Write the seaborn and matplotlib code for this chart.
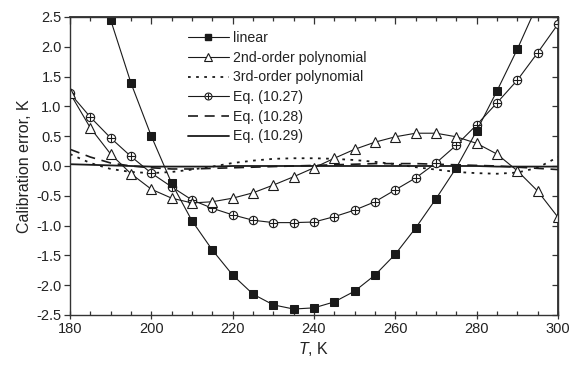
import numpy as np
import pandas as pd
import matplotlib
matplotlib.use("Agg")
import matplotlib.pyplot as plt
from matplotlib.lines import Line2D
from matplotlib.legend_handler import HandlerTuple
from matplotlib.ticker import MultipleLocator
import seaborn as sns

# Temperature grid, K
T = [180, 185, 190, 195, 200, 205, 210, 215, 220, 225, 230, 235, 240,
     245, 250, 255, 260, 265, 270, 275, 280, 285, 290, 295, 300]

# Calibration error of each fitting approach, K
err_linear = [4.8, 3.6, 2.45, 1.39, 0.50, -0.29, -0.92, -1.41, -1.83, -2.15,
              -2.33, -2.40, -2.38, -2.28, -2.10, -1.83, -1.48, -1.04, -0.55,
              -0.03, 0.59, 1.26, 1.96, 2.72, 3.55]
err_poly2 = [1.22, 0.64, 0.20, -0.13, -0.39, -0.54, -0.62, -0.60, -0.54, -0.45,
             -0.32, -0.18, -0.03, 0.13, 0.28, 0.40, 0.49, 0.55, 0.55, 0.49,
             0.38, 0.20, -0.08, -0.42, -0.86]
err_poly3 = [0.20, 0.05, -0.05, -0.10, -0.12, -0.10, -0.06, -0.01, 0.05, 0.09,
             0.12, 0.13, 0.13, 0.12, 0.10, 0.07, 0.03, -0.02, -0.06, -0.10,
             -0.12, -0.13, -0.11, -0.03, 0.15]
err_eq1027 = [1.22, 0.82, 0.47, 0.16, -0.12, -0.35, -0.57, -0.71, -0.82, -0.91,
              -0.95, -0.95, -0.94, -0.85, -0.74, -0.60, -0.40, -0.20, 0.05,
              0.35, 0.69, 1.06, 1.44, 1.90, 2.38]
err_eq1028 = [0.28, 0.15, 0.05, 0.00, -0.03, -0.05, -0.05, -0.04, -0.03, -0.02,
              -0.01, 0.00, 0.01, 0.02, 0.03, 0.04, 0.04, 0.04, 0.03, 0.02,
              0.01, 0.00, -0.02, -0.04, -0.06]
err_eq1029 = [0.03, 0.02, 0.01, 0.00, -0.01, -0.01, -0.01, -0.01, 0.00, 0.00,
              0.00, 0.00, 0.00, 0.00, 0.00, 0.00, 0.00, 0.00, 0.00, 0.00,
              0.00, -0.01, -0.01, -0.01, -0.01]

labels = ["linear", "2nd-order polynomial", "3rd-order polynomial",
          "Eq. (10.27)", "Eq. (10.28)", "Eq. (10.29)"]

sns.set_theme(style="ticks")
plt.rcParams["font.family"] = ["Liberation Sans", "DejaVu Sans"]
plt.rcParams["mathtext.fontset"] = "custom"
plt.rcParams["mathtext.it"] = "Liberation Sans:italic"

fig = plt.figure(figsize=(5.72, 3.67), dpi=100)
ax = fig.add_axes([0.1224, 0.1417, 0.8531, 0.812])

ink = "#1a1a1a"
lw = 0.8
dotted = (0, (1.5, 3.0))
dashed = (0, (6, 4))

# 3rd-order polynomial, Eq. (10.28), Eq. (10.29): plain lines
sns.lineplot(x=T, y=err_poly3, ax=ax, color=ink, lw=1.3,
             linestyle=dotted, estimator=None, sort=False)
sns.lineplot(x=T, y=err_eq1028, ax=ax, color=ink, lw=1.2,
             linestyle=dashed, estimator=None, sort=False)
sns.lineplot(x=T, y=err_eq1029, ax=ax, color=ink, lw=1.3,
             estimator=None, sort=False)

# Eq. (10.27): open circle with a cross
sns.lineplot(x=T, y=err_eq1027, ax=ax, color=ink, lw=lw, marker="o",
             markersize=6, markerfacecolor="white", markeredgecolor=ink,
             markeredgewidth=0.8, estimator=None, sort=False)
ax.plot(T, err_eq1027, linestyle="none", marker="+", markersize=6,
        color=ink, markeredgewidth=0.8)

# 2nd-order polynomial: open triangles
sns.lineplot(x=T, y=err_poly2, ax=ax, color=ink, lw=lw, marker="^",
             markersize=7.5, markerfacecolor="white", markeredgecolor=ink,
             markeredgewidth=0.8, estimator=None, sort=False)

# linear: filled squares
sns.lineplot(x=T, y=err_linear, ax=ax, color=ink, lw=lw, marker="s",
             markersize=6, markerfacecolor=ink, markeredgecolor=ink,
             estimator=None, sort=False)

ax.set_xlim(180, 300)
ax.set_ylim(-2.5, 2.5)
ax.xaxis.set_major_locator(MultipleLocator(20))
ax.xaxis.set_minor_locator(MultipleLocator(5))
yt = np.arange(-2.5, 2.51, 0.5)
ax.set_yticks(yt)
ax.set_yticklabels([f"{v:.1f}" for v in yt])

for s in ax.spines.values():
    s.set_color("#333333")
    s.set_linewidth(1.0)

ax.tick_params(axis="x", which="major", direction="inout", length=6,
               width=0.9, labelsize=10.5, pad=2, colors="#333333",
               labelcolor="#222222")
ax.tick_params(axis="x", which="minor", direction="in", length=3,
               width=0.9, colors="#333333")
ax.tick_params(axis="y", which="major", direction="out", length=4,
               width=0.9, labelsize=10.5, pad=2, colors="#333333",
               labelcolor="#222222")

top = ax.secondary_xaxis("top")
top.xaxis.set_major_locator(MultipleLocator(20))
top.xaxis.set_minor_locator(MultipleLocator(5))
top.tick_params(which="major", direction="in", length=5, width=0.9,
                labeltop=False, colors="#333333")
top.tick_params(which="minor", direction="in", length=3, width=0.9,
                colors="#333333")
right = ax.secondary_yaxis("right")
right.set_yticks(yt)
right.tick_params(which="major", direction="in", length=4, width=0.9,
                  labelright=False, colors="#333333")

ax.set_xlabel(r"$\it{T}$, K", fontsize=11.5, color="#222222", labelpad=3)
ax.set_ylabel("Calibration error, K", fontsize=11.5, color="#222222",
              labelpad=3)

# legend entries
h_lin = Line2D([], [], color=ink, lw=lw, marker="s", markersize=5,
               markerfacecolor=ink)
h_p2 = Line2D([], [], color=ink, lw=lw, marker="^", markersize=6,
              markerfacecolor="white", markeredgewidth=0.8)
h_p3 = Line2D([], [], color=ink, lw=1.3, linestyle=dotted)
h_27a = Line2D([], [], color=ink, lw=lw, marker="o", markersize=5,
               markerfacecolor="white", markeredgewidth=0.8)
h_27b = Line2D([], [], color=ink, linestyle="none", marker="+",
               markersize=5, markeredgewidth=0.8)
h_28 = Line2D([], [], color=ink, lw=1.2, linestyle=dashed)
h_29 = Line2D([], [], color=ink, lw=1.3)

leg = ax.legend([h_lin, h_p2, h_p3, (h_27a, h_27b), h_28, h_29], labels,
                handler_map={tuple: HandlerTuple(ndivide=1)},
                loc="upper left", bbox_to_anchor=(0.235, 0.962),
                frameon=False, fontsize=10.2, handlelength=2.9,
                handletextpad=0.3, labelspacing=0.4, borderaxespad=0,
                borderpad=0.2)
for t in leg.get_texts():
    t.set_color("#222222")

fig.savefig("out.png", dpi=100, facecolor="white")
